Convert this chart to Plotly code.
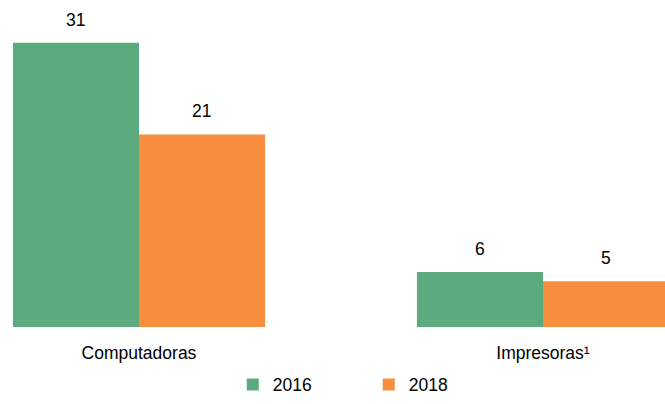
import plotly.graph_objects as go

categories = ["Computadoras", "Impresoras¹"]
series_names = ["2016", "2018"]
values_2016 = [31, 6]
values_2018 = [21, 5]
colors = ["#5cab7e", "#f68d3f"]

FONT = "Liberation Sans Narrow, Arial Narrow, Liberation Sans, Arial, sans-serif"
FS = 17.5

fig = go.Figure()
for name, vals, col in zip(series_names, [values_2016, values_2018], colors):
    fig.add_trace(go.Bar(
        x=categories, y=vals, name=name,
        marker=dict(color=col, line=dict(width=0)),
        hoverinfo="skip",
    ))

# value labels above bars
annotations = []
for i, vals in enumerate([values_2016, values_2018]):
    for j, v in enumerate(vals):
        annotations.append(dict(
            x=categories[j], y=v, xref="x", yref="y",
            text=str(v), showarrow=False,
            xshift=(-63 if i == 0 else 63), yshift=23,
            yanchor="middle", xanchor="center",
            font=dict(family=FONT, size=FS, color="#000000"),
        ))

fig.update_layout(
    width=665, height=404,
    margin=dict(l=0, r=0, t=0, b=77, autoexpand=False),
    paper_bgcolor="white", plot_bgcolor="white",
    barmode="group", bargap=0.376, bargroupgap=0,
    font=dict(family=FONT, size=FS, color="#000000"),
    xaxis=dict(range=[-0.344, 1.302], showgrid=False, zeroline=False,
               showline=False, ticks="", ticklabelstandoff=13, automargin=False,
               tickfont=dict(family=FONT, size=FS, color="#000000")),
    yaxis=dict(range=[0, 35.66], visible=False, automargin=False),
    showlegend=True,
    legend=dict(orientation="h", xref="container", yref="container",
                x=0.35, y=0.048, xanchor="left", yanchor="middle",
                entrywidth=91, itemwidth=30,
                font=dict(family=FONT, size=FS, color="#000000"),
                bgcolor="rgba(0,0,0,0)"),
    annotations=annotations,
)

fig.write_html(
    "out.html",
    config={"displayModeBar": False},
    post_script="document.body.style.margin='0';document.body.style.overflow='hidden';",
)
